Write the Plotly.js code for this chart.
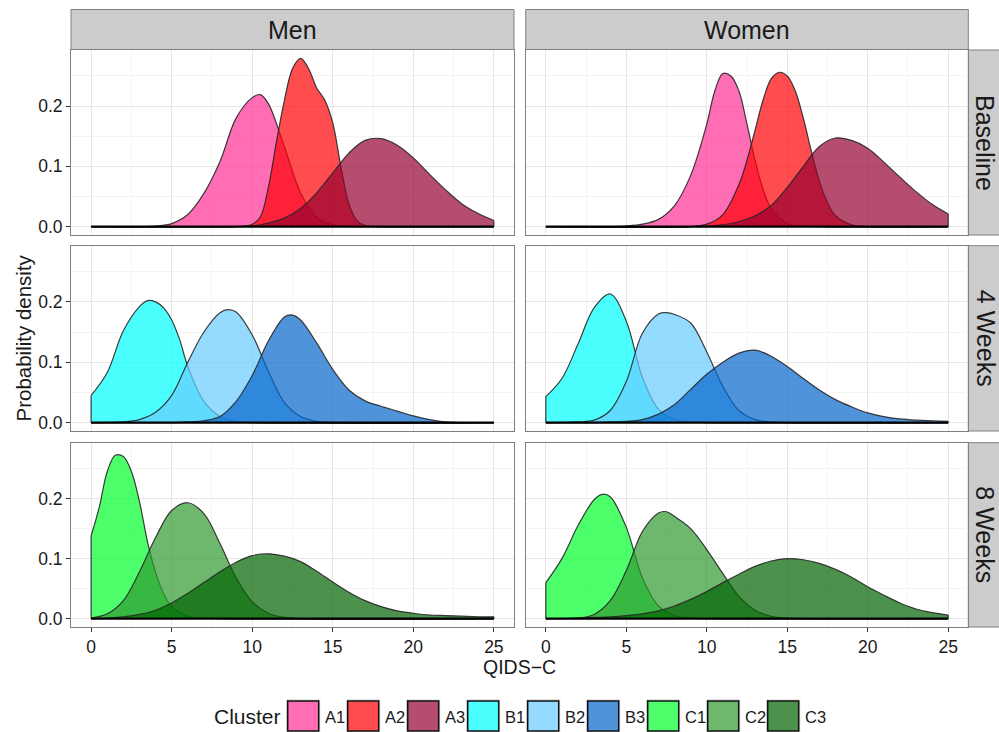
<!DOCTYPE html>
<html>
<head>
<meta charset="utf-8">
<script src="https://cdn.plot.ly/plotly-3.0.1.min.js"></script>
<style>html,body{margin:0;padding:0;background:#fff;}#chart{width:999px;height:732px;}</style>
</head>
<body>
<div id="chart"></div>
<script>
// ---------- categories & labels ----------
const clusters = ['A1','A2','A3','B1','B2','B3','C1','C2','C3'];
const sexes = ['Men','Women'];
const timepoints = ['Baseline','4 Weeks','8 Weeks'];
const fillColors = ['rgba(255,49,149,0.7)','rgba(255,0,4,0.7)','rgba(149,1,48,0.7)',
                    'rgba(0,255,255,0.7)','rgba(102,204,255,0.7)','rgba(4,101,204,0.7)',
                    'rgba(0,255,44,0.7)','rgba(49,154,49,0.7)','rgba(0,99,0,0.7)'];
const xTicks = [0,5,10,15,20,25];
const yTicks = [0,0.1,0.2];
const xTitle = 'QIDS\u2212C';
const yTitle = 'Probability density';
const legendTitle = 'Cluster';

// ---------- density values ----------
// Men, Baseline
const menA1x = [0,3,4,5,6,7,8,9,10,10.5,11,12,13,14,15,16,17,25];
const menA1y = [0,0,0.001,0.005,0.02,0.055,0.108,0.18,0.214,0.219,0.204,0.132,0.056,0.015,0.003,0.0005,0,0];
const menA2x = [0,9,9.5,10,10.5,11,11.5,12,12.5,13,13.5,14,14.5,15,15.5,16,16.5,17,18,25];
const menA2y = [0,0,0.001,0.004,0.016,0.065,0.14,0.21,0.262,0.279,0.262,0.23,0.21,0.172,0.1,0.038,0.01,0.002,0,0];
const menA3x = [0,9,10,11,12,13,14,15,16,17,18,19,20,21,22,23,24,25];
const menA3y = [0,0,0.001,0.006,0.014,0.03,0.056,0.089,0.122,0.143,0.146,0.135,0.114,0.087,0.061,0.038,0.022,0.01];
// Women, Baseline
const womenA1x = [0,4,5,6,7,8,9,10,10.5,11,11.5,12,12.5,13,13.5,14,15,16,17,25];
const womenA1y = [0,0,0.001,0.004,0.012,0.035,0.085,0.17,0.225,0.254,0.25,0.225,0.17,0.11,0.062,0.03,0.005,0.001,0,0];
const womenA2x = [0,9,10,11,12,12.5,13,13.5,14,14.5,15,15.5,16,16.5,17,17.5,18,19,20,25];
const womenA2y = [0,0,0.004,0.02,0.07,0.11,0.16,0.21,0.245,0.256,0.25,0.225,0.18,0.125,0.075,0.04,0.018,0.003,0,0];
const womenA3x = [0,9,10,11,12,13,14,15,16,17,18,19,20,21,22,23,24,25];
const womenA3y = [0,0,0.001,0.003,0.008,0.018,0.035,0.065,0.1,0.133,0.147,0.143,0.13,0.107,0.082,0.058,0.037,0.021];
// Men, 4 Weeks
const menB1x = [0,1,2,3,3.5,4,4.5,5,5.5,6,7,8,9,10,25];
const menB1y = [0.045,0.083,0.152,0.192,0.202,0.2,0.19,0.17,0.137,0.093,0.035,0.01,0.002,0,0];
const menB2x = [0,2,3,4,5,6,7,8,8.5,9,10,11,12,13,14,15,25];
const menB2y = [0,0.001,0.005,0.017,0.045,0.1,0.15,0.182,0.187,0.183,0.145,0.085,0.033,0.01,0.002,0,0];
const menB3x = [0,5,6,7,8,9,10,11,12,12.5,13,14,15,16,17,18,19,20,21,22,23,25];
const menB3y = [0,0,0.001,0.003,0.01,0.035,0.078,0.135,0.175,0.178,0.17,0.132,0.088,0.054,0.036,0.027,0.019,0.011,0.005,0.001,0,0];
// Women, 4 Weeks
const womenB1x = [0,1,2,3,4,5,6,7,8,9,10,25];
const womenB1y = [0.043,0.073,0.13,0.19,0.213,0.168,0.075,0.022,0.005,0.001,0,0];
const womenB2x = [0,2,3,4,5,6,7,7.5,8,9,10,11,12,13,14,15,25];
const womenB2y = [0,0.001,0.004,0.02,0.068,0.148,0.18,0.182,0.179,0.165,0.117,0.06,0.02,0.005,0.001,0,0];
const womenB3x = [0,3,4,5,6,7,8,9,10,11,12,13,14,15,16,17,18,19,20,21,22,23,24,25];
const womenB3y = [0,0,0.001,0.002,0.005,0.014,0.03,0.055,0.08,0.1,0.115,0.12,0.11,0.093,0.073,0.054,0.038,0.026,0.016,0.01,0.006,0.004,0.003,0.002];
// Men, 8 Weeks
const menC1x = [0,0.5,1,1.5,2,2.5,3,3.5,4,4.5,5,6,7,8,25];
const menC1y = [0.138,0.185,0.245,0.272,0.27,0.245,0.195,0.128,0.077,0.042,0.02,0.004,0.001,0,0];
const menC2x = [0,1,2,3,4,5,6,7,8,9,10,11,12,13,25];
const menC2y = [0.001,0.008,0.03,0.078,0.135,0.18,0.193,0.175,0.125,0.068,0.028,0.009,0.002,0,0];
const menC3x = [0,1,2,3,4,5,6,7,8,9,10,11,12,13,14,15,16,17,18,19,20,21,22,23,24,25];
const menC3y = [0,0.001,0.003,0.007,0.014,0.026,0.042,0.06,0.078,0.094,0.105,0.108,0.104,0.095,0.079,0.061,0.044,0.03,0.02,0.013,0.009,0.006,0.005,0.004,0.003,0.003];
// Women, 8 Weeks
const womenC1x = [0,1,2,3,3.5,4,5,6,7,8,9,10,25];
const womenC1y = [0.06,0.1,0.155,0.198,0.207,0.203,0.152,0.068,0.021,0.005,0.001,0,0];
const womenC2x = [0,2,3,4,5,6,7,7.5,8,9,10,11,12,13,14,15,16,25];
const womenC2y = [0,0.001,0.007,0.03,0.08,0.145,0.176,0.178,0.17,0.15,0.115,0.075,0.037,0.014,0.004,0.001,0,0];
const womenC3x = [0,2,3,4,5,6,7,8,9,10,11,12,13,14,15,16,17,18,19,20,21,22,23,24,25];
const womenC3y = [0,0.001,0.002,0.003,0.005,0.008,0.013,0.021,0.032,0.045,0.06,0.074,0.087,0.096,0.1,0.098,0.092,0.082,0.069,0.053,0.039,0.026,0.016,0.01,0.006];

const seriesData = {
  Men:   {A1:[menA1x,menA1y],A2:[menA2x,menA2y],A3:[menA3x,menA3y],
          B1:[menB1x,menB1y],B2:[menB2x,menB2y],B3:[menB3x,menB3y],
          C1:[menC1x,menC1y],C2:[menC2x,menC2y],C3:[menC3x,menC3y]},
  Women: {A1:[womenA1x,womenA1y],A2:[womenA2x,womenA2y],A3:[womenA3x,womenA3y],
          B1:[womenB1x,womenB1y],B2:[womenB2x,womenB2y],B3:[womenB3x,womenB3y],
          C1:[womenC1x,womenC1y],C2:[womenC2x,womenC2y],C3:[womenC3x,womenC3y]}
};

// ---------- layout geometry (pixels in a 999x732 canvas) ----------
const W = 999, H = 732;
const px = v => v / W;
const py = v => 1 - v / H;
const colPx = [[71, 514], [525.7, 968.3]];
const rowPx = [[50, 235], [245.7, 431], [442.7, 627]];
const FONT = 'Liberation Sans, Arial, Helvetica, sans-serif';
const outline = 'rgba(40,40,40,0.9)';

const traces = [];
const layout = {
  width: W, height: H,
  margin: {l: 0, r: 0, t: 0, b: 0},
  paper_bgcolor: '#ffffff', plot_bgcolor: '#ffffff',
  showlegend: false,
  font: {family: FONT, color: '#1a1a1a'},
  shapes: [], annotations: []
};

for (let r = 0; r < 3; r++) {
  for (let c = 0; c < 2; c++) {
    const idx = r * 2 + c + 1;
    const sfx = idx === 1 ? '' : String(idx);
    const xa = 'x' + sfx, ya = 'y' + sfx;
    const sex = sexes[c];
    let xmin = Infinity, xmax = -Infinity;
    for (let k = 0; k < 3; k++) {
      const ci = r * 3 + k;
      const [xs, ys] = seriesData[sex][clusters[ci]];
      xmin = Math.min(xmin, xs[0]); xmax = Math.max(xmax, xs[xs.length - 1]);
      traces.push({
        type: 'scatter', mode: 'lines', x: xs, y: ys, xaxis: xa, yaxis: ya,
        name: clusters[ci], fill: 'tozeroy', fillcolor: fillColors[ci],
        line: {color: outline, width: 1.2, shape: 'spline', smoothing: 1},
        hoverinfo: 'skip'
      });
      // vertical edges where the density is cut at the ends of the range
      traces.push({
        type: 'scatter', mode: 'lines', xaxis: xa, yaxis: ya,
        x: [xs[0], xs[0], null, xs[xs.length - 1], xs[xs.length - 1]],
        y: [0, ys[0], null, ys[ys.length - 1], 0],
        line: {color: outline, width: 1.2}, hoverinfo: 'skip'
      });
    }
    // baseline of the density polygons
    traces.push({
      type: 'scatter', mode: 'lines', xaxis: xa, yaxis: ya,
      x: [xmin, xmax], y: [0, 0], line: {color: '#000000', width: 2.2}, hoverinfo: 'skip'
    });

    const bottom = r === 2, left = c === 0;
    layout['xaxis' + sfx] = {
      domain: [px(colPx[c][0]), px(colPx[c][1])], anchor: ya,
      range: [-1.25, 26.25], tickvals: xTicks, ticktext: xTicks.map(String),
      showgrid: true, gridcolor: '#E6E6E6', gridwidth: 1,
      minor: {dtick: 2.5, tick0: 0, showgrid: true, gridcolor: '#F4F4F4', gridwidth: 1, ticks: ''},
      zeroline: false, showline: true, mirror: true, linecolor: '#808080', linewidth: 1,
      ticks: bottom ? 'outside' : '', ticklen: 4, tickwidth: 1, tickcolor: '#333333',
      showticklabels: bottom, tickfont: {size: 17.5, color: '#1a1a1a', family: FONT}
    };
    layout['yaxis' + sfx] = {
      domain: [py(rowPx[r][1]), py(rowPx[r][0])], anchor: xa,
      range: [-0.01395, 0.293], tickvals: yTicks, ticktext: yTicks.map(v => v.toFixed(1)),
      showgrid: true, gridcolor: '#E6E6E6', gridwidth: 1,
      minor: {dtick: 0.05, tick0: 0, showgrid: true, gridcolor: '#F4F4F4', gridwidth: 1, ticks: ''},
      zeroline: false, showline: true, mirror: true, linecolor: '#808080', linewidth: 1,
      ticks: left ? 'outside' : '', ticklen: 4, tickwidth: 1, tickcolor: '#333333',
      showticklabels: left, tickfont: {size: 17.5, color: '#1a1a1a', family: FONT}
    };
  }
}

// ---------- facet strips ----------
for (let c = 0; c < 2; c++) {
  layout.shapes.push({type: 'rect', xref: 'paper', yref: 'paper',
    x0: px(colPx[c][0]), x1: px(colPx[c][1]), y0: py(49.5), y1: py(9.5),
    fillcolor: '#CCCCCC', line: {color: '#808080', width: 1}, layer: 'below'});
  layout.annotations.push({xref: 'paper', yref: 'paper', showarrow: false,
    x: px((colPx[c][0] + colPx[c][1]) / 2), y: py(29.5), xanchor: 'center', yanchor: 'middle',
    text: sexes[c], font: {size: 25, color: '#1a1a1a', family: FONT}});
}
for (let r = 0; r < 3; r++) {
  layout.shapes.push({type: 'rect', xref: 'paper', yref: 'paper',
    x0: px(968.3), x1: px(1012), y0: py(rowPx[r][1]), y1: py(rowPx[r][0]),
    fillcolor: '#CCCCCC', line: {color: '#808080', width: 1}, layer: 'below'});
  layout.annotations.push({xref: 'paper', yref: 'paper', showarrow: false,
    x: px(985.5), y: py((rowPx[r][0] + rowPx[r][1]) / 2), xanchor: 'center', yanchor: 'middle',
    textangle: 90, text: timepoints[r], font: {size: 25, color: '#1a1a1a', family: FONT}});
}

// ---------- axis titles ----------
layout.annotations.push({xref: 'paper', yref: 'paper', showarrow: false,
  x: px(519.6), y: py(667), xanchor: 'center', yanchor: 'middle',
  text: xTitle, font: {size: 19.5, color: '#1a1a1a', family: FONT}});
layout.annotations.push({xref: 'paper', yref: 'paper', showarrow: false,
  x: px(23), y: py(338.5), xanchor: 'center', yanchor: 'middle', textangle: -90,
  text: yTitle, font: {size: 20.5, color: '#1a1a1a', family: FONT}});

// ---------- legend ----------
layout.annotations.push({xref: 'paper', yref: 'paper', showarrow: false,
  x: px(212), y: py(716.5), xanchor: 'left', yanchor: 'middle',
  text: legendTitle, font: {size: 21, color: '#1a1a1a', family: FONT}});
clusters.forEach((cl, i) => {
  const x0 = 287.7 + i * 60;
  layout.shapes.push({type: 'rect', xref: 'paper', yref: 'paper',
    x0: px(x0 - 1), x1: px(x0 + 32), y0: py(732), y1: py(700),
    fillcolor: 'rgba(0,0,0,0)', line: {color: '#CCCCCC', width: 1}});
  layout.shapes.push({type: 'rect', xref: 'paper', yref: 'paper',
    x0: px(x0), x1: px(x0 + 31), y0: py(731), y1: py(701),
    fillcolor: fillColors[i], line: {color: '#111111', width: 1.5}});
  layout.annotations.push({xref: 'paper', yref: 'paper', showarrow: false,
    x: px(x0 + 35), y: py(716.5), xanchor: 'left', yanchor: 'middle',
    text: cl, font: {size: 16.5, color: '#1a1a1a', family: FONT}});
});

Plotly.newPlot('chart', traces, layout, {displayModeBar: false, staticPlot: true});
</script>
</body>
</html>
